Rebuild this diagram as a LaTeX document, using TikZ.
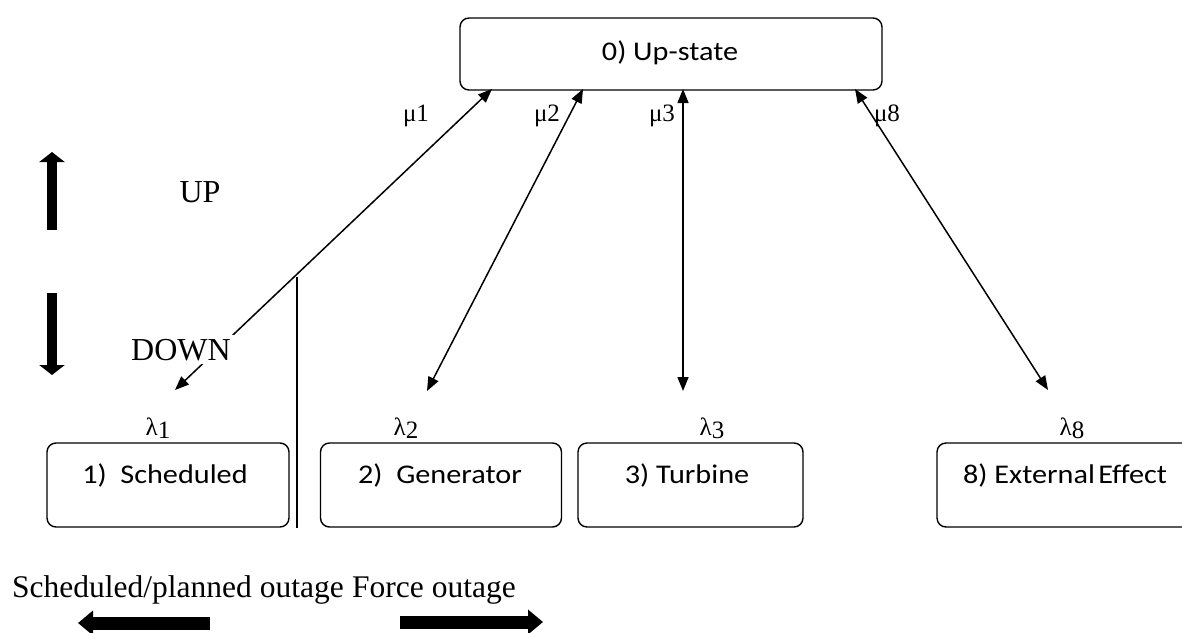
\documentclass[tikz,border=0pt]{standalone}
\usepackage{fontspec}
\setmainfont{Liberation Serif}
\newfontfamily\calfont{Carlito}
\usepackage{graphicx}
\usetikzlibrary{arrows.meta}
\newcommand{\wide}[1]{\scalebox{1.12}[1]{#1}}
\tikzset{
  statebox/.style={draw, line width=1.4pt, rounded corners=9pt, inner sep=0pt, minimum height=84pt},
  statetext/.style={font=\calfont\fontsize{27}{30}\selectfont, anchor=base, inner sep=0pt},
  rate/.style={font=\fontsize{25}{28}\selectfont, inner sep=0pt},
  serifbig/.style={font=\fontsize{32}{36}\selectfont, inner sep=0pt},
  serifmid/.style={font=\fontsize{31.5}{36}\selectfont, inner sep=0pt, anchor=base west},
  link/.style={line width=1.5pt, {Triangle[length=14pt,width=11pt]}-{Triangle[length=14pt,width=11pt]}},
  divider/.style={line width=1.5pt},
  bigarrow/.style={line width=10pt, -{Triangle[length=10pt,width=25pt]}},
  fatarrow/.style={line width=13pt, -{Triangle[length=15pt,width=24pt]}}
}
\begin{document}
\begin{tikzpicture}[x=1pt,y=-1pt]
\useasboundingbox (0,0) rectangle (1182,632);

% state boxes
\node[statebox, minimum width=422pt, minimum height=72pt] (s0) at (671,54) {};
\node[statetext] (t0) at (670,60) {\wide{0) Up-state}};

\node[statebox, minimum width=242pt] (s1) at (168,485) {};
\node[statetext] (t1) at (165,483) {\wide{1)\ \ Scheduled}};
\node[statebox, minimum width=241pt] (s2) at (441,485) {};
\node[statetext] (t2) at (440,483) {\wide{2)\ \ Generator}};
\node[statebox, minimum width=225pt] (s3) at (690.5,485) {};
\node[statetext] (t3) at (687,483) {\wide{3) Turbine}};
\node[statebox, minimum width=256pt] (s8) at (1065,485) {};
\node[statetext] (t8) at (1065,483) {\wide{8) External\hspace{3pt}Effect}};

% connector end points
\coordinate (u1) at (492,89);
\coordinate (d1) at (175,390);
\coordinate (u2) at (583,89);
\coordinate (d2) at (427,391);
\coordinate (u3) at (683,89);
\coordinate (d3) at (683,391);
\coordinate (u8) at (855,89);
\coordinate (d8) at (1048,390);

\draw[link] (d1) -- (u1);
\draw[link] (d2) -- (u2);
\draw[link] (d3) -- (u3);
\draw[link] (d8) -- (u8);

% divider
\coordinate (v1) at (297,277);
\coordinate (v2) at (297,528);
\draw[divider] (v1) -- (v2);

% rates
\node[rate, anchor=base] (m1) at (416,121) {μ1};
\node[rate, anchor=base] (m2) at (547,121) {μ2};
\node[rate, anchor=base] (m3) at (662,121) {μ3};
\node[rate, anchor=base] (m8) at (887,121) {μ8};
\node[rate] (l1) at (158,428) {λ\raisebox{-0.12em}{1}};
\node[rate] (l2) at (406,428) {λ\raisebox{-0.12em}{2}};
\node[rate] (l3) at (712,428) {λ\raisebox{-0.12em}{3}};
\node[rate] (l8) at (1072,428) {λ\raisebox{-0.12em}{8}};

% UP / DOWN
\node[serifbig, anchor=base] (up) at (200,202) {UP};
\node[serifbig, anchor=base, fill=white, inner xsep=6pt, inner ysep=4pt] (down) at (181,360) {DOWN};

\coordinate (ua1) at (52,230);
\coordinate (ua2) at (52,152);
\draw[bigarrow] (ua1) -- (ua2);
\coordinate (da1) at (52,293);
\coordinate (da2) at (52,375);
\draw[bigarrow] (da1) -- (da2);

% bottom legend
\node[serifmid] (sched) at (12,597) {Scheduled/planned outage};
\node[serifmid] (force) at (352,597) {Force outage};
\coordinate (la1) at (210,623);
\coordinate (la2) at (78,623);
\draw[fatarrow] (la1) -- (la2);
\coordinate (ra1) at (400,622);
\coordinate (ra2) at (543,622);
\draw[fatarrow] (ra1) -- (ra2);
\end{tikzpicture}
\end{document}
